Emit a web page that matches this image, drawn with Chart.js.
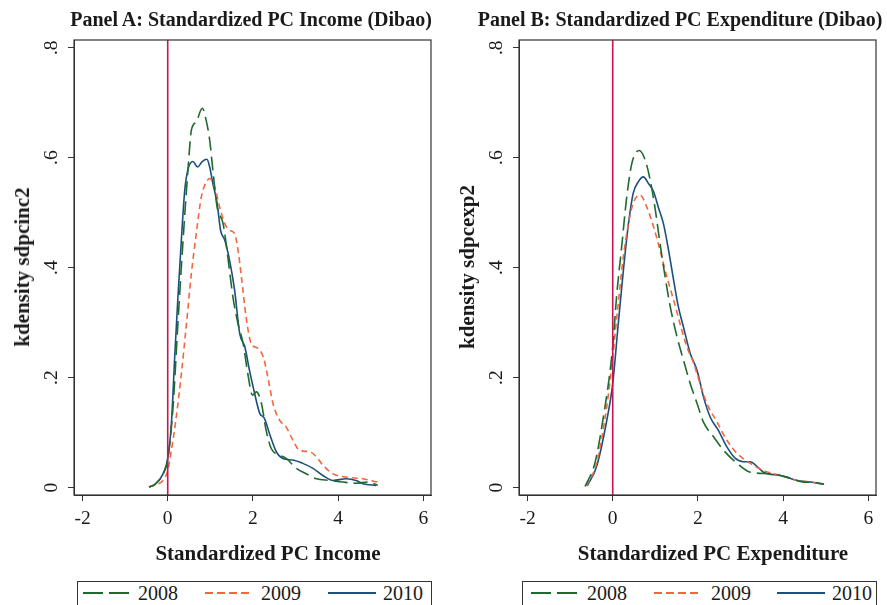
<!DOCTYPE html>
<html>
<head>
<meta charset="utf-8">
<script src="https://cdn.jsdelivr.net/npm/chart.js@4.4.1/dist/chart.umd.min.js"></script>
<style>
  html, body { margin:0; padding:0; background:#fff; }
  body { width:887px; height:605px; overflow:hidden; position:relative; font-family:"Liberation Serif", "Times New Roman", serif; color:#1a1a1a; }
  canvas { position:absolute; top:0; }
  .ptitle { position:absolute; font-weight:bold; font-size:20px; line-height:24px; white-space:nowrap; transform:translateX(-50%); }
  .xtitle { position:absolute; font-weight:bold; font-size:21px; line-height:24px; white-space:nowrap; transform:translateX(-50%); }
  .ytitle { position:absolute; font-weight:bold; font-size:21px; line-height:24px; white-space:nowrap; transform:translate(-50%,-50%) rotate(-90deg); }
  .legend { position:absolute; border:1px solid #333; background:#fff; }
  .legend svg { position:absolute; }
  .legend span { position:absolute; font-size:20px; line-height:24px; white-space:nowrap; }
</style>
</head>
<body>
<canvas id="cA" width="443" height="570" style="left:0px"></canvas>
<canvas id="cB" width="444" height="570" style="left:443px"></canvas>
<script>
// ---------------- DATA ----------------
const seriesLabels = ["2008", "2009", "2010"];
const xTickValues = [-2, 0, 2, 4, 6];
const yTickValues = [0, 0.2, 0.4, 0.6, 0.8];
const yTickLabels = ["0", ".2", ".4", ".6", ".8"];
const referenceLineX = 0;

const panelTitles = ["Panel A: Standardized PC Income (Dibao)", "Panel B: Standardized PC Expenditure (Dibao)"];
const xAxisTitles = ["Standardized PC Income", "Standardized PC Expenditure"];
const yAxisTitles = ["kdensity sdpcinc2", "kdensity sdpcexp2"];

// Panel A: income
const incomeX2008 = [-0.44,-0.3,-0.11,0,0.125,0.24,0.36,0.48,0.555,0.67,0.81,0.91,0.985,1.06,1.16,1.30,1.41,1.53,1.65,1.77,1.88,1.99,2.08,2.20,2.31,2.43,2.63,2.78,3.02,3.25,3.49,3.80,4.11,4.42,4.70,4.93];
const incomeY2008 = [0.001,0.006,0.025,0.05,0.147,0.30,0.45,0.583,0.65,0.665,0.69,0.665,0.632,0.577,0.51,0.48,0.42,0.347,0.298,0.262,0.207,0.168,0.174,0.153,0.104,0.071,0.059,0.053,0.035,0.025,0.016,0.013,0.010,0.008,0.010,0.004];
const incomeX2009 = [-0.44,-0.3,-0.11,0,0.086,0.20,0.32,0.44,0.555,0.67,0.79,0.91,0.985,1.10,1.22,1.34,1.45,1.57,1.65,1.73,1.84,1.96,2.12,2.24,2.35,2.47,2.63,2.78,2.94,3.09,3.33,3.49,3.64,3.88,4.19,4.58,4.93];
const incomeY2009 = [0.001,0.005,0.013,0.031,0.068,0.128,0.207,0.298,0.389,0.462,0.529,0.556,0.562,0.547,0.51,0.48,0.468,0.462,0.432,0.383,0.31,0.262,0.253,0.238,0.201,0.153,0.122,0.110,0.086,0.068,0.065,0.056,0.041,0.025,0.019,0.016,0.010];
const incomeX2010 = [-0.44,-0.3,-0.11,0,0.086,0.164,0.24,0.32,0.40,0.48,0.59,0.70,0.81,0.92,0.985,1.06,1.16,1.24,1.34,1.45,1.57,1.69,1.81,1.92,2.04,2.16,2.27,2.39,2.55,2.70,2.94,3.17,3.41,3.64,3.88,4.19,4.42,4.58,4.89];
const incomeY2010 = [0.001,0.006,0.025,0.053,0.116,0.238,0.347,0.45,0.541,0.58,0.593,0.583,0.593,0.597,0.583,0.553,0.517,0.468,0.45,0.414,0.359,0.28,0.256,0.213,0.171,0.135,0.126,0.098,0.065,0.053,0.050,0.044,0.035,0.022,0.013,0.016,0.013,0.007,0.004];

// Panel B: expenditure
const expendX2008 = [-0.65,-0.42,-0.22,0,0.09,0.21,0.33,0.45,0.62,0.76,0.88,1.0,1.11,1.23,1.35,1.51,1.66,1.82,1.98,2.13,2.37,2.60,2.92,3.23,3.70,4.09,4.48,4.64,4.96];
const expendY2008 = [0.002,0.044,0.128,0.256,0.347,0.438,0.529,0.59,0.613,0.596,0.559,0.505,0.444,0.383,0.329,0.274,0.232,0.189,0.153,0.119,0.092,0.068,0.044,0.028,0.025,0.019,0.010,0.010,0.006];
const expendX2009 = [-0.62,-0.38,-0.14,0,0.13,0.25,0.37,0.48,0.64,0.80,0.96,1.11,1.27,1.43,1.58,1.74,1.90,2.05,2.21,2.45,2.68,2.92,3.23,3.54,3.94,4.33,4.64,4.96];
const expendY2009 = [0.003,0.044,0.147,0.238,0.335,0.42,0.48,0.517,0.532,0.51,0.474,0.432,0.383,0.341,0.298,0.256,0.226,0.189,0.153,0.119,0.086,0.062,0.044,0.031,0.022,0.013,0.010,0.006];
const expendX2010 = [-0.60,-0.38,-0.14,0,0.13,0.25,0.37,0.48,0.60,0.72,0.84,0.96,1.07,1.19,1.31,1.43,1.54,1.66,1.82,1.98,2.13,2.29,2.48,2.68,2.88,3.07,3.23,3.35,3.54,3.94,4.33,4.64,4.96];
const expendY2010 = [0.003,0.038,0.122,0.189,0.298,0.395,0.48,0.535,0.556,0.565,0.553,0.538,0.51,0.48,0.432,0.377,0.329,0.292,0.244,0.213,0.165,0.128,0.104,0.074,0.053,0.047,0.047,0.041,0.028,0.022,0.013,0.010,0.006];

// ---------------- STYLE ----------------
const seriesColors = ["#1f6b2f", "#f4663f", "#1d4f7c"];
const seriesDash = [[14, 6], [6, 4], []];
const legendDash = ["20 6", "8 4", ""];
const refColor = "#cc1450";
const axisColor = "#333333";
const fontFamily = '"Liberation Serif", "Times New Roman", serif';

function pts(xs, ys) { return xs.map((x, i) => ({ x: x, y: ys[i] })); }

const framePlugin = {
  id: 'frameAndRef',
  afterDatasetsDraw(chart) {
    const { ctx, chartArea: a, scales } = chart;
    const px = scales.x.getPixelForValue(referenceLineX);
    ctx.save();
    ctx.strokeStyle = refColor;
    ctx.lineWidth = 1.6;
    ctx.beginPath();
    ctx.moveTo(px, a.top);
    ctx.lineTo(px, a.bottom);
    ctx.stroke();
    ctx.strokeStyle = axisColor;
    ctx.lineWidth = 1.2;
    ctx.strokeRect(a.left, a.top, a.right - a.left, a.bottom - a.top);
    ctx.restore();
  }
};

const yLabelPlugin = {
  id: 'yRotLabels',
  afterDraw(chart) {
    const { ctx, chartArea: a, scales } = chart;
    const s = scales.y;
    ctx.save();
    ctx.font = '19.5px ' + fontFamily;
    ctx.fillStyle = '#1a1a1a';
    ctx.textAlign = 'center';
    ctx.textBaseline = 'middle';
    yTickValues.forEach((v, i) => {
      const y = s.getPixelForValue(v);
      ctx.save();
      ctx.translate(a.left - 22, y);
      ctx.rotate(-Math.PI / 2);
      ctx.fillText(yTickLabels[i], 0, 0);
      ctx.restore();
    });
    ctx.restore();
  }
};

function makeChart(id, seriesXs, seriesYs, yAxisWidth, padRight) {
  const datasets = seriesLabels.map((lab, i) => ({
    label: lab,
    data: pts(seriesXs[i], seriesYs[i]),
    borderColor: seriesColors[i],
    borderDash: seriesDash[i],
    borderWidth: 1.6,
    pointRadius: 0,
    showLine: true,
    fill: false,
    cubicInterpolationMode: 'monotone'
  }));
  return new Chart(document.getElementById(id), {
    type: 'scatter',
    data: { datasets: datasets },
    options: {
      responsive: false,
      animation: false,
      devicePixelRatio: 1,
      layout: { padding: { left: 0, right: padRight, top: 40, bottom: 0 } },
      plugins: { legend: { display: false }, tooltip: { enabled: false }, title: { display: false } },
      scales: {
        x: {
          type: 'linear', min: -2.2, max: 6.18,
          afterBuildTicks: s => { s.ticks = xTickValues.map(v => ({ value: v })); },
          afterFit: s => { s.height = 75; },
          grid: { drawOnChartArea: false, drawTicks: true, tickLength: 6, color: axisColor },
          border: { display: true, color: axisColor },
          ticks: { color: '#1a1a1a', padding: 6, maxRotation: 0, font: { family: fontFamily, size: 19.5 } }
        },
        y: {
          type: 'linear', min: -0.0135, max: 0.814,
          afterBuildTicks: s => { s.ticks = yTickValues.map(v => ({ value: v })); },
          afterFit: s => { s.width = yAxisWidth; },
          grid: { drawOnChartArea: false, drawTicks: true, tickLength: 6, color: axisColor },
          border: { display: true, color: axisColor },
          ticks: { display: false }
        }
      }
    },
    plugins: [framePlugin, yLabelPlugin]
  });
}

makeChart('cA', [incomeX2008, incomeX2009, incomeX2010], [incomeY2008, incomeY2009, incomeY2010], 74, 12);
makeChart('cB', [expendX2008, expendX2009, expendX2010], [expendY2008, expendY2009, expendY2010], 76, 11);

// ---------------- HTML TEXT ----------------
function addDiv(cls, text, left, top) {
  const d = document.createElement('div');
  d.className = cls; d.textContent = text;
  d.style.left = left + 'px'; d.style.top = top + 'px';
  document.body.appendChild(d);
  return d;
}
addDiv('ptitle', panelTitles[0], 251, 7);
addDiv('ptitle', panelTitles[1], 680, 7);
addDiv('xtitle', xAxisTitles[0], 268, 541);
addDiv('xtitle', xAxisTitles[1], 713, 541);
addDiv('ytitle', yAxisTitles[0], 22, 267);
addDiv('ytitle', yAxisTitles[1], 467, 267);

function addLegend(left, top, width, lineStarts, lineLen, textStarts) {
  const box = document.createElement('div');
  box.className = 'legend';
  box.style.left = left + 'px'; box.style.top = top + 'px';
  box.style.width = width + 'px'; box.style.height = '40px';
  seriesLabels.forEach((lab, i) => {
    const svg = document.createElementNS('http://www.w3.org/2000/svg', 'svg');
    svg.setAttribute('width', lineLen); svg.setAttribute('height', 6);
    svg.style.left = lineStarts[i] + 'px'; svg.style.top = '8px';
    const ln = document.createElementNS('http://www.w3.org/2000/svg', 'line');
    ln.setAttribute('x1', 0); ln.setAttribute('x2', lineLen);
    ln.setAttribute('y1', 3); ln.setAttribute('y2', 3);
    ln.setAttribute('stroke', seriesColors[i]);
    ln.setAttribute('stroke-width', 2);
    if (legendDash[i]) ln.setAttribute('stroke-dasharray', legendDash[i]);
    svg.appendChild(ln);
    box.appendChild(svg);
    const sp = document.createElement('span');
    sp.textContent = lab;
    sp.style.left = textStarts[i] + 'px'; sp.style.top = '-1px';
    box.appendChild(sp);
  });
  document.body.appendChild(box);
}
addLegend(77, 581, 353, [5, 127, 250], 48, [60, 183, 305]);
addLegend(522, 581, 353, [8, 131, 254], 48, [64, 188, 309]);
</script>
</body>
</html>
